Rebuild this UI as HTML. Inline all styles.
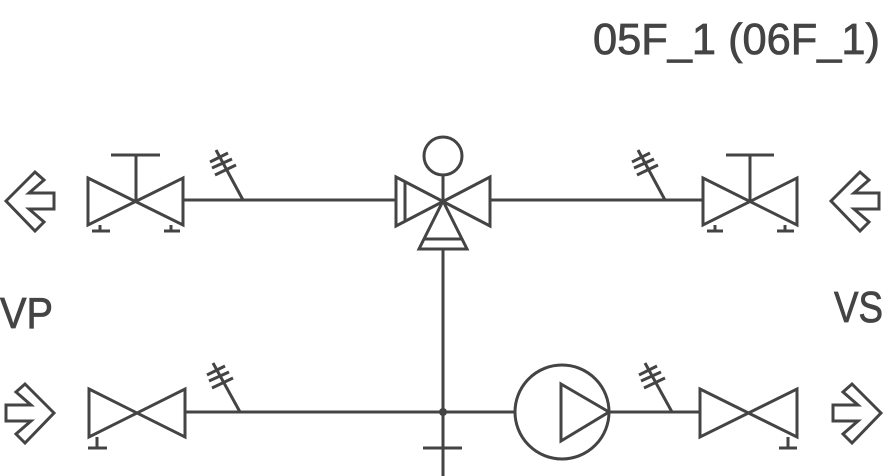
<!DOCTYPE html>
<html><head><style>html,body{margin:0;padding:0;background:#fff}svg{display:block}</style></head>
<body>
<svg width="885" height="476" viewBox="0 0 885 476" xmlns="http://www.w3.org/2000/svg">
<g fill="none" stroke="#444" stroke-width="3" stroke-linejoin="miter">
<polygon points="6,201 35,172 44,180 29,193 54,193 54,209 29,209 44,222 35,231"/>
<polygon points="88,178 183,225 183,178 88,225"/>
<line x1="136" y1="201" x2="136" y2="155"/><line x1="111" y1="155" x2="160" y2="155"/>
<line x1="100" y1="225" x2="100" y2="231"/><line x1="92" y1="231" x2="110" y2="231"/>
<line x1="171" y1="225" x2="171" y2="231"/><line x1="164" y1="231" x2="180" y2="231"/>
<line x1="183" y1="200" x2="396" y2="200"/>
<line x1="243" y1="200" x2="216" y2="150"/>
<line x1="210" y1="162" x2="228" y2="153"/><line x1="212" y1="168" x2="232" y2="159"/><line x1="215" y1="175" x2="236" y2="165"/>
<circle cx="443" cy="156" r="19"/>
<line x1="443" y1="175" x2="443" y2="201"/>
<polygon points="396,177 490,226 490,177 396,226"/>
<line x1="405" y1="181" x2="405" y2="222"/>
<polygon points="443,201 467,249 419,249"/>
<line x1="424" y1="239" x2="462" y2="239"/>
<line x1="490" y1="200" x2="703" y2="200"/>
<line x1="443" y1="249" x2="443" y2="476"/>
<line x1="665" y1="200" x2="638" y2="150"/>
<line x1="632" y1="162" x2="650" y2="153"/><line x1="634" y1="168" x2="654" y2="159"/><line x1="637" y1="175" x2="658" y2="165"/>
<polygon points="703,178 797,225 797,178 703,225"/>
<line x1="750" y1="201" x2="750" y2="155"/><line x1="726" y1="155" x2="774" y2="155"/>
<line x1="715" y1="225" x2="715" y2="231"/><line x1="707" y1="231" x2="723" y2="231"/>
<line x1="785" y1="225" x2="785" y2="231"/><line x1="777" y1="231" x2="794" y2="231"/>
<polygon points="831,201 860,172 869,180 854,193 879,193 879,209 854,209 869,222 860,231"/>
<polygon points="54,413 25,384 16,392 31,405 6,405 6,421 31,421 16,434 25,443"/>
<polygon points="89,389 185,437 185,389 89,437"/>
<line x1="97" y1="437" x2="97" y2="448"/><line x1="88" y1="448" x2="107" y2="448"/>
<line x1="185" y1="412" x2="515" y2="412"/>
<line x1="240" y1="412" x2="213" y2="363"/>
<line x1="207" y1="375" x2="225" y2="366"/><line x1="209" y1="381" x2="229" y2="372"/><line x1="212" y1="388" x2="233" y2="378"/>
<line x1="423" y1="448" x2="462" y2="448"/>
<circle cx="562" cy="412" r="47"/>
<polygon points="561,384 609,412 561,441"/>
<line x1="609" y1="412" x2="700" y2="412"/>
<line x1="672" y1="412" x2="645" y2="363"/>
<line x1="639" y1="375" x2="657" y2="366"/><line x1="641" y1="381" x2="661" y2="372"/><line x1="644" y1="388" x2="665" y2="378"/>
<polygon points="700,389 797,437 797,389 700,437"/>
<line x1="788" y1="437" x2="788" y2="448"/><line x1="779" y1="448" x2="797" y2="448"/>
<polygon points="881,413 852,384 843,392 858,405 833,405 833,421 858,421 843,434 852,443"/>
</g>
<circle cx="443" cy="412" r="4" fill="#444"/>
<g fill="#444" stroke="#444" stroke-width="0.8" font-family="Liberation Sans, sans-serif" font-size="44">
<text x="593" y="54" textLength="287" lengthAdjust="spacingAndGlyphs">05F_1 (06F_1)</text>
<text x="0" y="328" textLength="53" lengthAdjust="spacingAndGlyphs">VP</text>
<text x="834" y="322" textLength="49" lengthAdjust="spacingAndGlyphs">VS</text>
</g>
</svg>
</body></html>
